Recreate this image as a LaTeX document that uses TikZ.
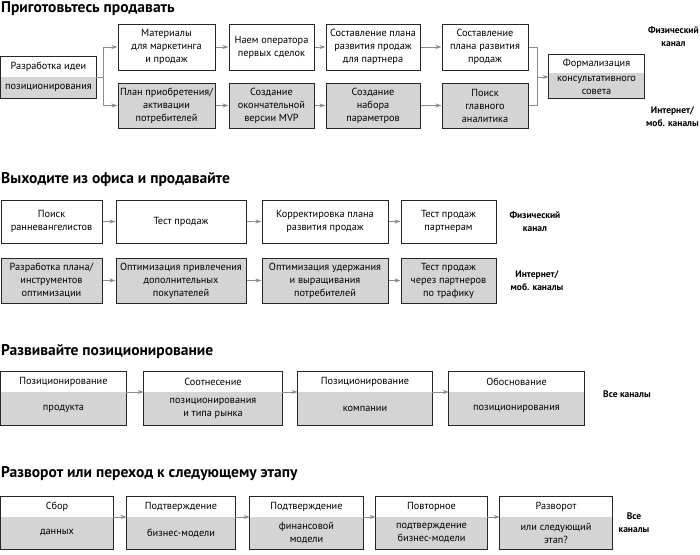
\documentclass[tikz,border=0pt]{standalone}
\usepackage{fontspec}
\setmainfont{PT Sans}
\usetikzlibrary{positioning}
\usetikzlibrary{arrows.meta}

\tikzset{
  boxline/.style={draw=black!85, line width=1pt},
  txt/.style={align=center, font=\fontsize{10.3}{13}\selectfont, inner sep=0pt},
  lbl/.style={align=center, font=\fontsize{9.5}{13}\selectfont\bfseries, inner sep=0pt},
  ttl/.style={anchor=west, font=\fontsize{15.5}{17}\selectfont\bfseries, inner sep=0pt},
  arr/.style={draw=black!45, line width=1pt, -{Stealth[length=6pt,width=4pt]}},
  lin/.style={draw=black!45, line width=1pt},
}
\colorlet{boxgray}{black!17}

% plain box: name, x1, y1, x2, y2, fill, text
\newcommand{\pbox}[7]{%
  \node[boxline, fill=#6, txt, minimum width={(#4-#2)*1pt}, minimum height={(#5-#3)*1pt}]
    (#1) at ({(#2+#4)/2},{(#3+#5)/2}) {#7};}
% split box: name, x1, y1, x2, y2, ysplit, top text, bottom text
\newcommand{\splitbox}[8]{%
  \node[inner sep=0pt, minimum width={(#4-#2)*1pt}, minimum height={(#5-#3)*1pt}]
    (#1) at ({(#2+#4)/2},{(#3+#5)/2}) {};
  \fill[boxgray] (#2,#6) rectangle (#4,#5);
  \draw[boxline] (#1.north west) rectangle (#1.south east);
  \node[txt] at ({(#2+#4)/2},{(#3+#6)/2}) {#7};
  \node[txt] at ({(#2+#4)/2},{(#6+#5)/2}) {#8};}

\begin{document}
\begin{tikzpicture}[x=1pt, y=-1pt]
    \useasboundingbox (0,0) rectangle (700,554);

    % --- section 1
    \node[ttl] (t1) at (1,9) {Приготовьтесь продавать};
    \splitbox{idea}{1}{57}{96}{98}{77}{Разработка идеи}{позиционирования}
    \pbox{mat}{118}{24}{215}{70}{white}{Материалы\\для маркетинга\\и продаж}
    \pbox{hire}{229}{24}{314}{70}{white}{Наем оператора\\первых сделок}
    \pbox{plp}{326}{24}{420}{70}{white}{Составление плана\\развития продаж\\для партнера}
    \pbox{pl}{442}{24}{528}{70}{white}{Составление\\плана развития\\продаж}
    \pbox{acq}{118}{83}{215}{128}{boxgray}{План приобретения/\\активации\\потребителей}
    \pbox{mvp}{229}{83}{314}{128}{boxgray}{Создание\\окончательной\\версии MVP}
    \pbox{par}{326}{83}{420}{128}{boxgray}{Создание\\набора\\параметров}
    \pbox{ana}{442}{83}{528}{128}{boxgray}{Поиск\\главного\\аналитика}
    \splitbox{form}{549}{55}{644}{98}{73}{Формализация}{консультативного\\совета}
    \node[lbl, anchor=east] (ph1) at (699,37) {Физический\\канал};
    \node[lbl, anchor=east] (in1) at (699,117) {Интернет/\\моб. каналы};

    \coordinate (fork) at (103,77);
    \coordinate (join) at (537,77);
    \draw[lin] (idea.east |- fork) -- (fork);
    \draw[arr] (fork) |- (mat.west);
    \draw[arr] (fork) |- (acq.west);
    \draw[arr] (mat) -- (hire);
    \draw[arr] (hire) -- (plp);
    \draw[arr] (plp) -- (pl);
    \draw[arr] (acq) -- (mvp);
    \draw[arr] (mvp) -- (par);
    \draw[arr] (par) -- (ana);
    \draw[lin] (pl.east) -| (join);
    \draw[lin] (ana.east) -| (join);
    \draw[arr] (join) -- (form.west |- join);

    % --- section 2
    \node[ttl] (t2) at (1,180) {Выходите из офиса и продавайте};
    \pbox{early}{1}{200}{102}{243}{white}{Поиск\\ранневангелистов}
    \pbox{test}{116}{200}{246}{243}{white}{Тест продаж}
    \pbox{corr}{262}{200}{388}{243}{white}{Корректировка плана\\развития продаж}
    \pbox{tpart}{401}{200}{496}{243}{white}{Тест продаж\\партнерам}
    \pbox{opt}{1}{258}{102}{303}{boxgray}{Разработка плана/\\инструментов\\оптимизации}
    \pbox{attr}{116}{258}{246}{303}{boxgray}{Оптимизация привлечения\\дополнительных\\покупателей}
    \pbox{ret}{262}{258}{388}{303}{boxgray}{Оптимизация удержания\\и выращивания\\потребителей}
    \pbox{traf}{401}{258}{496}{303}{boxgray}{Тест продаж\\через партнеров\\по трафику}
    \node[lbl] (ph2) at (535,222) {Физический\\канал};
    \node[lbl] (in2) at (537,281) {Интернет/\\моб. каналы};
    \draw[arr] (early) -- (test);
    \draw[arr] (test) -- (corr);
    \draw[arr] (corr) -- (tpart);
    \draw[arr] (opt) -- (attr);
    \draw[arr] (attr) -- (ret);
    \draw[arr] (ret) -- (traf);

    % --- section 3
    \node[ttl] (t3) at (1,352) {Развивайте позиционирование};
    \splitbox{prod}{1}{372}{126}{425}{392}{Позиционирование}{продукта}
    \splitbox{match}{144}{372}{282}{425}{392}{Соотнесение}{позиционирования\\и типа рынка}
    \splitbox{comp}{298}{372}{432}{425}{392}{Позиционирование}{компании}
    \splitbox{just}{449}{372}{584}{425}{392}{Обоснование}{позиционирования}
    \node[lbl] (all3) at (627,394) {Все каналы};
    \draw[arr] (prod.east |- 0,392) -- (match.west |- 0,392);
    \draw[arr] (match.east |- 0,392) -- (comp.west |- 0,392);
    \draw[arr] (comp.east |- 0,392) -- (just.west |- 0,392);

    % --- section 4
    \node[ttl] (t4) at (1,474) {Разворот или переход к следующему этапу};
    \splitbox{data}{1}{497}{113}{549}{517}{Сбор}{данных}
    \splitbox{bm}{127}{497}{235}{549}{517}{Подтверждение}{бизнес-модели}
    \splitbox{fin}{250}{497}{363}{549}{517}{Подтверждение}{финансовой\\модели}
    \splitbox{rep}{376}{497}{487}{549}{517}{Повторное}{подтверждение\\бизнес-модели}
    \splitbox{piv}{500}{497}{612}{549}{517}{Разворот}{или следующий\\этап?}
    \node[lbl] (all4) at (634,523) {Все\\каналы};
    \draw[arr] (data.east |- 0,517) -- (bm.west |- 0,517);
    \draw[arr] (bm.east |- 0,517) -- (fin.west |- 0,517);
    \draw[arr] (fin.east |- 0,517) -- (rep.west |- 0,517);
    \draw[arr] (rep.east |- 0,517) -- (piv.west |- 0,517);
\end{tikzpicture}
\end{document}
